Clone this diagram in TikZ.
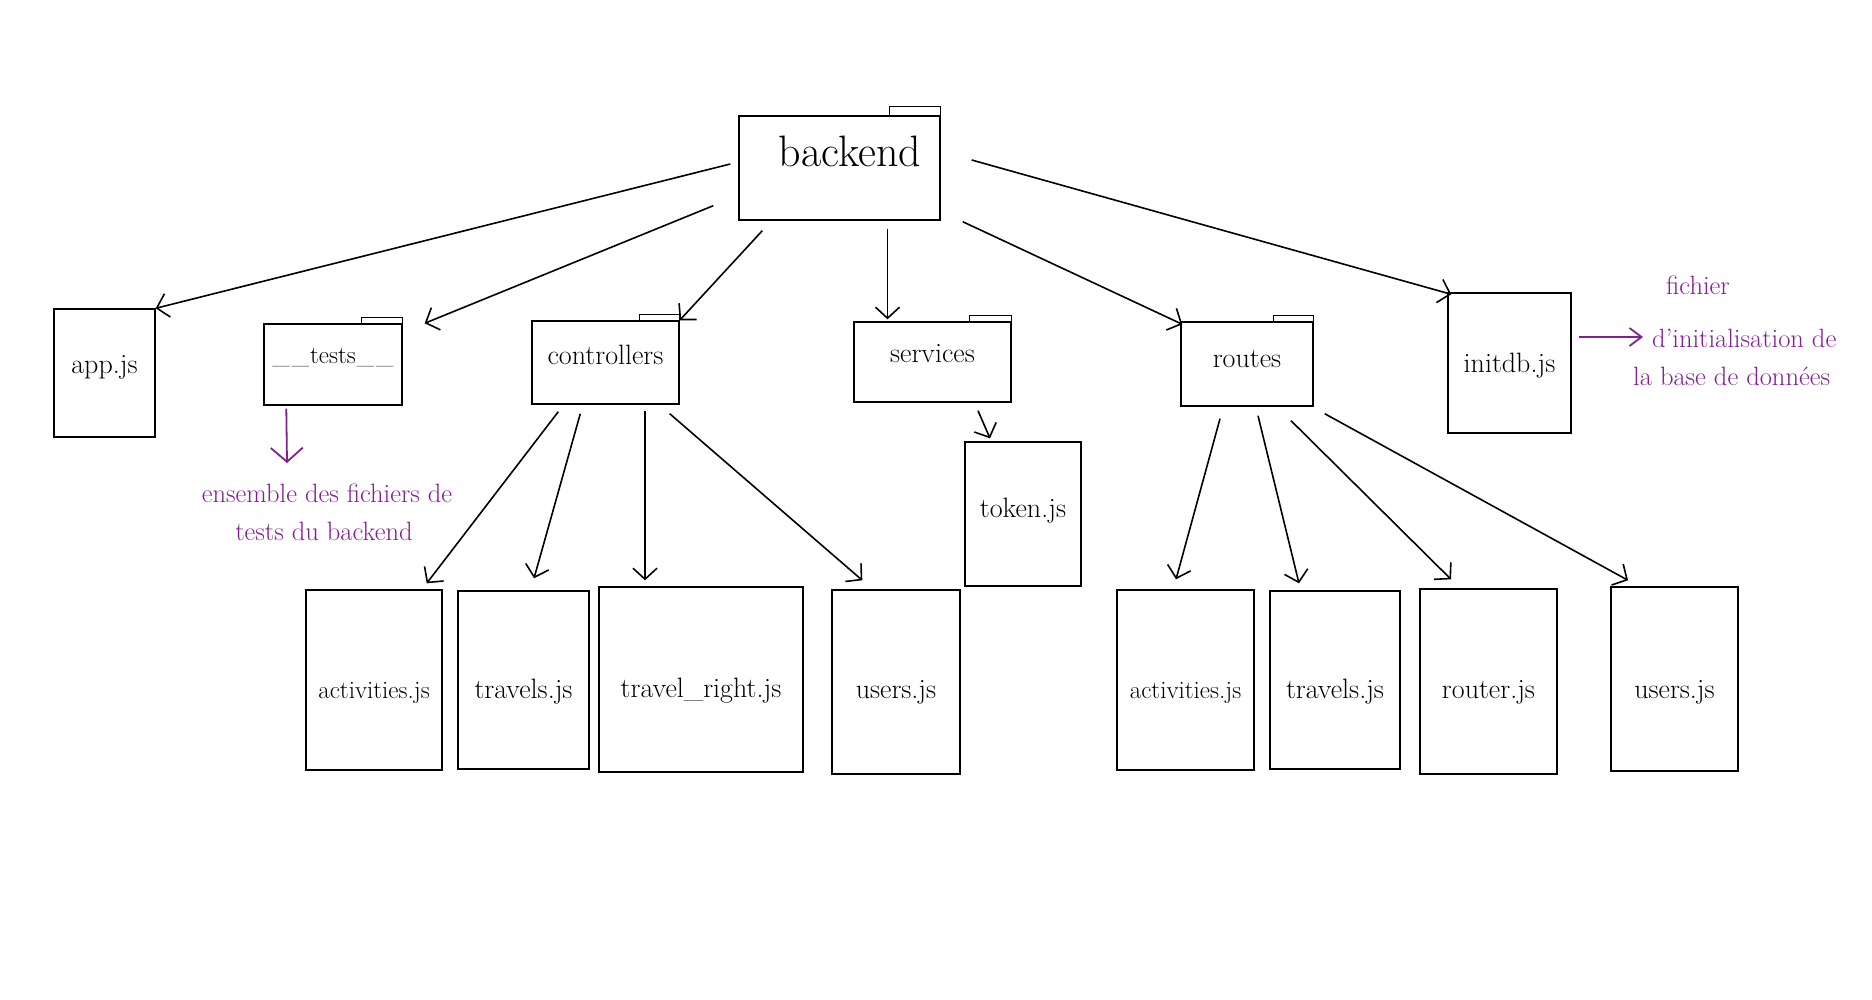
\documentclass[tikz,border=0pt]{standalone}
\usepackage{fontspec}
\usetikzlibrary{arrows.meta}
\definecolor{purp}{RGB}{128,32,145}
\newcommand{\lblfont}{\fontsize{28}{32}\selectfont}
\newcommand{\smallfont}{\fontsize{25}{28}\selectfont}
\newcommand{\notefont}{\fontsize{26.5}{32}\selectfont}
\newcommand{\baselbl}[2][0pt]{\raisebox{#1}[0pt][0pt]{#2}}
\begin{document}
\begin{tikzpicture}[x=1pt,y=-1pt,
  box/.style={draw, line width=1.4pt, inner sep=0pt, font=\lblfont},
  tabline/.style={line width=1.2pt},
  arr/.style={line width=1.6pt, -{Straight Barb[length=11pt,width=24pt]}},
  parr/.style={line width=1.8pt, draw=purp, -{Straight Barb[length=14pt,width=32pt]}},
  parrb/.style={line width=1.8pt, draw=purp, -{Straight Barb[length=12pt,width=18pt]}},
  note/.style={text=purp, font=\notefont, inner sep=0pt},
]
\useasboundingbox (0,0) rectangle (1872,1000);
\fill[white] (0,0) rectangle (1872,1000);

% top folder
\node[box, minimum width=201pt, minimum height=104pt] (backend) at (839.5,168) {};
\node[font=\fontsize{44}{50}\selectfont, inner sep=0pt, anchor=base] (backendlbl) at (850,167) {backend};
\draw[tabline] ([xshift=-51pt]backend.north east) rectangle ([yshift=9pt]backend.north east);

% second row
\node[box, minimum width=101pt, minimum height=128pt] (app) at (104.5,373) {\baselbl[-1pt]{app.js}};
\node[box, minimum width=138pt, minimum height=81pt] (tests) at (333,364.5) {};
\node[font=\fontsize{25}{28}\selectfont, inner sep=0pt, anchor=base] (testslbl) at (333,363) {\_\kern2pt\_\kern1pt tests\kern1pt\_\kern2pt\_};
\draw[tabline] ([xshift=-41pt]tests.north east) rectangle ([yshift=6pt]tests.north east);
\node[box, minimum width=147pt, minimum height=83pt] (ctrl) at (605.5,362.5) {\baselbl[-2pt]{controllers}};
\draw[tabline] ([xshift=-40pt]ctrl.north east) rectangle ([yshift=6pt]ctrl.north east);
\node[box, minimum width=157pt, minimum height=80pt] (serv) at (932.5,362) {\baselbl[-1pt]{services}};
\draw[tabline] ([xshift=-42pt]serv.north east) rectangle ([yshift=6pt]serv.north east);
\node[box, minimum width=132pt, minimum height=84pt] (routes) at (1247,364) {\baselbl[-3pt]{routes}};
\draw[tabline] ([xshift=-40pt]routes.north east) rectangle ([yshift=6pt]routes.north east);
\node[box, minimum width=123pt, minimum height=140pt] (initdb) at (1509.5,363) {\baselbl[-9pt]{initdb.js}};
\node[box, minimum width=116pt, minimum height=144pt] (token) at (1023,514) {\baselbl[-3pt]{token.js}};

% bottom row
\node[box, minimum width=136pt, minimum height=180pt] (act1) at (374,680) {\baselbl[-18pt]{\smallfont activities.js}};
\node[box, minimum width=131pt, minimum height=178pt] (trav1) at (523.5,680) {\baselbl[-18pt]{travels.js}};
\node[box, minimum width=204pt, minimum height=185pt] (tr) at (701,679.5) {\baselbl[-18pt]{travel\_right.js}};
\node[box, minimum width=128pt, minimum height=184pt] (users1) at (896,682) {\baselbl[-16pt]{users.js}};
\node[box, minimum width=137pt, minimum height=180pt] (act2) at (1185.5,680) {\baselbl[-18pt]{\smallfont activities.js}};
\node[box, minimum width=130pt, minimum height=178pt] (trav2) at (1335,680) {\baselbl[-18pt]{travels.js}};
\node[box, minimum width=137pt, minimum height=185pt] (router) at (1488.5,681.5) {\baselbl[-17pt]{router.js}};
\node[box, minimum width=127pt, minimum height=184pt] (users2) at (1674.5,679) {\baselbl[-19pt]{users.js}};

% notes
\node[note, anchor=base] (ens1) at (327,502) {ensemble des fichiers de};
\node[note, anchor=base] (ens2) at (324,540) {tests du backend};
\node[note, anchor=base west] (ini1) at (1666,295) {fichier};
\node[note, anchor=base west] (ini2) at (1652,348) {d'initialisation de};
\node[note, anchor=base west] (ini3) at (1633,385) {la base de données};

% arrows from backend
\draw[arr] ([xshift=-8pt,yshift=4pt]backend.west) -- (app.north east);
\draw[arr] ([xshift=-25pt,yshift=15pt]backend.south west) -- ([xshift=22pt]tests.north east);
\draw[arr] ([xshift=24pt,yshift=-10pt]backend.south west) -- (ctrl.north east);
\draw[arr] ([xshift=48pt,yshift=-8pt]backend.south) -- ([xshift=-45pt,yshift=2pt]serv.north);
\draw[arr] ([xshift=22pt,yshift=-1pt]backend.south east) -- ([xshift=2pt,yshift=-3pt]routes.north west);
\draw[arr] ([xshift=31pt,yshift=8pt]backend.east) -- ([xshift=4pt,yshift=-2pt]initdb.north west);

% controllers
\draw[arr] ([xshift=27pt,yshift=-7pt]ctrl.south west) -- ([xshift=-16pt,yshift=6pt]act1.north east);
\draw[arr] ([xshift=49pt,yshift=-9pt]ctrl.south west) -- ([xshift=10.5pt,yshift=12pt]trav1.north);
\draw[arr] ([xshift=39.5pt,yshift=-6pt]ctrl.south) -- ([xshift=-56pt,yshift=6pt]tr.north);
\draw[arr] ([xshift=-10pt,yshift=-9pt]ctrl.south east) -- ([xshift=31pt,yshift=9pt]users1.north west);

% services
\draw[arr] ([xshift=45.5pt,yshift=-8pt]serv.south) -- ([xshift=-33pt,yshift=3pt]token.north);

% routes
\draw[arr] ([xshift=-27pt,yshift=-12pt]routes.south) -- ([xshift=-9.5pt,yshift=10pt]act2.north);
\draw[arr] ([xshift=11pt,yshift=-9pt]routes.south) -- ([xshift=-36pt,yshift=7pt]trav2.north);
\draw[arr] ([xshift=44pt,yshift=-14pt]routes.south) -- ([xshift=-37.5pt,yshift=9pt]router.north);
\draw[arr] ([xshift=11pt,yshift=-7pt]routes.south east) -- ([xshift=-46.5pt,yshift=6pt]users2.north);

% purple notes arrows
\draw[parr] ([xshift=23pt,yshift=-3pt]tests.south west) -- ([xshift=-40pt,yshift=39pt]ens1.base);
\draw[parrb] ([xshift=7pt,yshift=26pt]initdb.east) -- ([xshift=-9pt,yshift=11pt]ini2.base west);
\end{tikzpicture}
\end{document}
